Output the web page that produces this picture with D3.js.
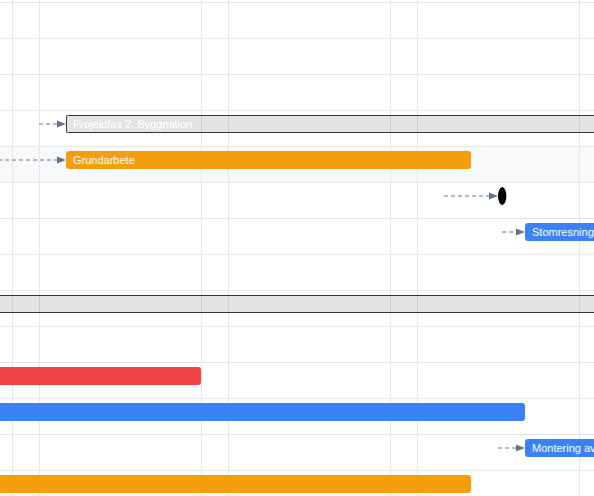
<!DOCTYPE html>
<html><head><meta charset="utf-8">
<script src="https://cdn.jsdelivr.net/npm/d3@7"></script>
<style>html,body{margin:0;padding:0;background:#fff;overflow:hidden}svg{display:block}</style>
</head><body>
<svg id="c" width="594" height="496"></svg>
<script>
// ---- data ----
const taskNames  = ["Projektfas 2: Byggnation","Grundarbete","Milstolpe","Stomresning","Projektfas 3","Rivning","Elinstallation","Montering av fönster","Markarbete"];
const taskRows   = [3,4,5,6,8,10,11,12,13];
const taskStarts = ["2024-03-05","2024-03-05","2024-03-21","2024-03-22","2024-02-20","2024-02-20","2024-02-29","2024-03-22","2024-02-25"];
const taskEnds   = ["2024-04-30","2024-03-20","2024-03-21","2024-04-10","2024-04-30","2024-03-10","2024-03-22","2024-04-10","2024-03-20"];
const taskTypes  = ["summary","orange","milestone","blue","summary","red","blue","blue","orange"];
const linkFrom   = ["2024-03-04","2024-02-25","2024-03-19","milestone","2024-03-21"];
const linkToRow  = [3,4,5,6,12];
const rowCount   = 14;
const highlightRow = 4;
const colors = {orange:"#f59e0b", blue:"#3b82f6", red:"#ef4444"};

const parse = d3.utcParse("%Y-%m-%d");
const x = d3.scaleUtc().domain([parse("2024-03-04"), parse("2024-03-26")]).range([39, 39 + 22*27]);
const y = d3.scaleLinear().domain([0, 1]).range([2.5, 38.5]);
const W = 594, H = 496, mid = 13.5;

const svg = d3.select("#c");

// highlighted row
svg.append("rect").attr("x",0).attr("width",W)
  .attr("y", y(highlightRow)).attr("height", y(1)-y(0)).attr("fill","#f8f9fb");

// horizontal grid
svg.append("g").selectAll("line").data(d3.range(-1, rowCount+1)).join("line")
  .attr("x1",0).attr("x2",W).attr("y1",d=>y(d)).attr("y2",d=>y(d))
  .attr("stroke","#e5e7eb").attr("stroke-width",1);

// vertical grid (Sundays and Mondays)
const d0 = parse("2024-02-25"), d1 = parse("2024-04-01");
const vdates = d3.utcSunday.range(d0, d1).concat(d3.utcMonday.range(d0, d1));
svg.append("g").selectAll("line").data(vdates).join("line")
  .attr("x1",d=>Math.round(x(d))+0.5).attr("x2",d=>Math.round(x(d))+0.5)
  .attr("y1",0).attr("y2",H).attr("stroke","#e5e7eb").attr("stroke-width",1);

const tasks = taskNames.map((n,i)=>({name:n,row:taskRows[i],start:parse(taskStarts[i]),end:parse(taskEnds[i]),type:taskTypes[i]}));
const milestone = tasks.find(t=>t.type==="milestone");

// links
const links = linkFrom.map((f,i)=>{
  const target = tasks.find(t=>t.row===linkToRow[i]);
  const fx = f==="milestone" ? x(milestone.start)+4 : x(parse(f));
  return {fx, tx: x(target.start), yy: y(target.row)+mid};
});
const lg = svg.append("g");
lg.selectAll("line").data(links).join("line")
  .attr("x1",d=>d.fx).attr("x2",d=>d.tx-8).attr("y1",d=>d.yy).attr("y2",d=>d.yy)
  .attr("stroke","#64748b").attr("stroke-width",1).attr("stroke-dasharray","4,3");
lg.selectAll("path").data(links).join("path")
  .attr("d",d=>`M${d.tx-9},${d.yy-3.5}L${d.tx},${d.yy}L${d.tx-9},${d.yy+3.5}Z`)
  .attr("fill","#64748b");

// bars
const bars = tasks.filter(t=>t.type!=="milestone");
const bg = svg.append("g");
bg.selectAll("rect").data(bars).join("rect")
  .attr("x",d=>x(d.start)+(d.type==="summary"?0.5:0))
  .attr("width",d=>x(d.end)-x(d.start))
  .attr("y",d=>y(d.row)+(d.type==="summary"?5:4.5))
  .attr("height",d=>d.type==="summary"?17:18)
  .attr("rx",d=>d.type==="summary"?1:3)
  .attr("fill",d=>d.type==="summary"?"rgba(0,0,0,0.11)":colors[d.type])
  .attr("stroke",d=>d.type==="summary"?"#333":"none")
  .attr("stroke-width",1);
const labels = bg.selectAll("text").data(bars).join("text")
  .attr("x",d=>x(d.start)+7).attr("y",d=>y(d.row)+mid)
  .attr("dy","0.35em")
  .attr("font-family","'Liberation Sans', Arial, sans-serif").attr("font-size",11)
  .attr("fill","#fff").text(d=>d.name);
// drop labels that lie entirely outside the view
labels.each(function(d){
  const len = this.getComputedTextLength();
  if (x(d.start)+7+len < 0) d3.select(this).remove();
});

// milestone
svg.append("ellipse").attr("cx",x(milestone.start)+4.2).attr("cy",y(milestone.row)+mid)
  .attr("rx",4.2).attr("ry",9).attr("fill","#000");
</script>
</body></html>
